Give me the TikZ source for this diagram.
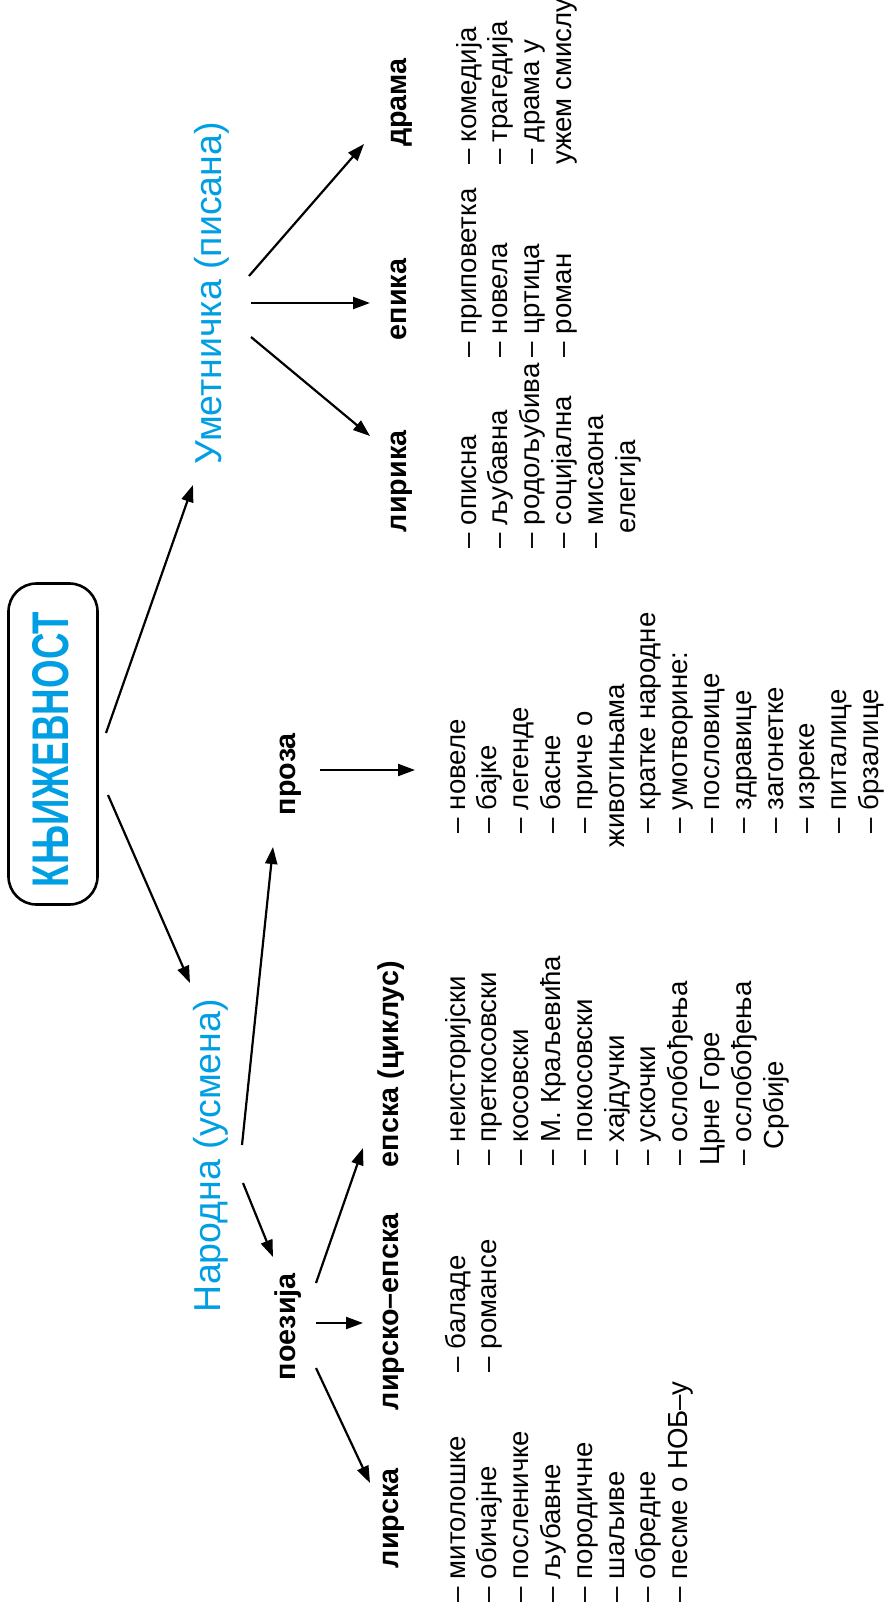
\documentclass[tikz,border=0pt]{standalone}
\usepackage{fontspec}
\setmainfont{Liberation Sans}
\usepackage{graphicx}
\usetikzlibrary{arrows.meta,calc}
\definecolor{kblue}{RGB}{0,159,227}
\tikzset{
  rot/.style={rotate=90, inner sep=0pt, outer sep=0pt, anchor=base west},
  item/.style={rot, font=\fontsize{27.6}{31.8}\selectfont},
  lbl/.style={rot, font=\bfseries\fontsize{28.7}{32}\selectfont},
  bluelbl/.style={rot, text=kblue, font=\fontsize{37.5}{40}\selectfont},
  arr/.style={line width=2.2pt, -{Triangle[length=17pt,width=12pt]}},
  rootbox/.style={draw, line width=2.6pt, rounded corners=28pt, minimum width=89pt, minimum height=321pt, inner sep=0pt, outer sep=0pt}
}
\newcommand\mklist[4]{\foreach \t [count=\i from 0] in {#4} {\node[item] (#1-\i) at ({#2+\i*31.8},#3) {\t};}}
\begin{document}
\begin{tikzpicture}[x=1pt,y=-1pt]
\useasboundingbox (0,0) rectangle (885,1613);
\node[rootbox] (root) at (53,744) {};
\node[rot, text=kblue] (title) at (68,887) {\resizebox{275pt}{36pt}{\bfseries КЊИЖЕВНОСТ}};
\node[bluelbl] (umet) at (221,464) {Уметничка (писана)};
\node[bluelbl] (nar) at (220,1312) {Народна (усмена)};
\node[lbl] (poez) at (295,1380) {поезија};
\node[lbl] (proza) at (295,815) {проза};
\node[lbl] (lirska) at (398,1568) {лирска};
\node[lbl] (lirep) at (398,1410) {лирско–епска};
\node[lbl] (epska) at (398,1167) {епска (циклус)};
\node[lbl] (lirika) at (406,532) {лирика};
\node[lbl] (epika) at (406,340) {епика};
\node[lbl] (drama) at (406,147) {драма};
\mklist{lsl}{465}{1602}{– митолошке,– обичајне,– посленичке,– љубавне,– породичне,– шаљиве,– обредне,– песме о НОБ–у}
\mklist{lel}{465}{1372}{– баладе,– романсе}
\mklist{epl}{465}{1165}{– неисторијски,– преткосовски,– косовски,– М. Краљевића,– покосовски,– хајдучки,– ускочки,– ослобођења,Црне Горе,– ослобођења,\hspace*{16pt}Србије}
\mklist{prl}{465}{833}{– новеле,– бајке,– легенде,– басне,– приче о,\hspace*{-14pt}животињама,– кратке народне,– умотворине:,– пословице,– здравице,– загонетке,– изреке,– питалице,– брзалице}
\mklist{lkl}{476}{548}{– описна,– љубавна,– родољубива,– социјална,– мисаона,\hspace*{15pt}елегија}
\mklist{ekl}{476}{357}{– приповетка,– новела,– цртица,– роман}
\mklist{dml}{476}{165}{– комедија,– трагедија,– драма у,ужем смислу}
% arrows
\draw[arr] ($(root.east)+(8.5,-11)$) -- ($(umet.base west)+(-28,21)$);
\draw[arr] ($(root.east)+(10.5,51)$) -- ($(nar.base west)+(-30,-329)$);
\draw[arr] ($(nar.base west)+(22,-167)$) -- ($(proza.base west)+(-22,32)$);
\draw[arr] ($(nar.base west)+(23,-129)$) -- ($(poez.base west)+(-22,-123)$);
\draw[arr] ($(poez.base west)+(21,-97)$) -- ($(epska.base west)+(-35,-19)$);
\draw[arr] ($(poez.base west)+(21,-57)$) -- ($(lirep.base west)+(-35,-87)$);
\draw[arr] ($(poez.base west)+(21,-12)$) -- ($(lirska.base west)+(-28,-85)$);
\draw[arr] ($(proza.base west)+(25,-45)$) -- ($(prl-0.base west)+(-50,-63)$);
\draw[arr] ($(umet.base west)+(28,-188)$) -- ($(drama.base west)+(-42,-3)$);
\draw[arr] ($(umet.base west)+(30,-161)$) -- ($(epika.base west)+(-36,-37)$);
\draw[arr] ($(umet.base west)+(30,-127)$) -- ($(lirika.base west)+(-36,-96)$);
\end{tikzpicture}
\end{document}
